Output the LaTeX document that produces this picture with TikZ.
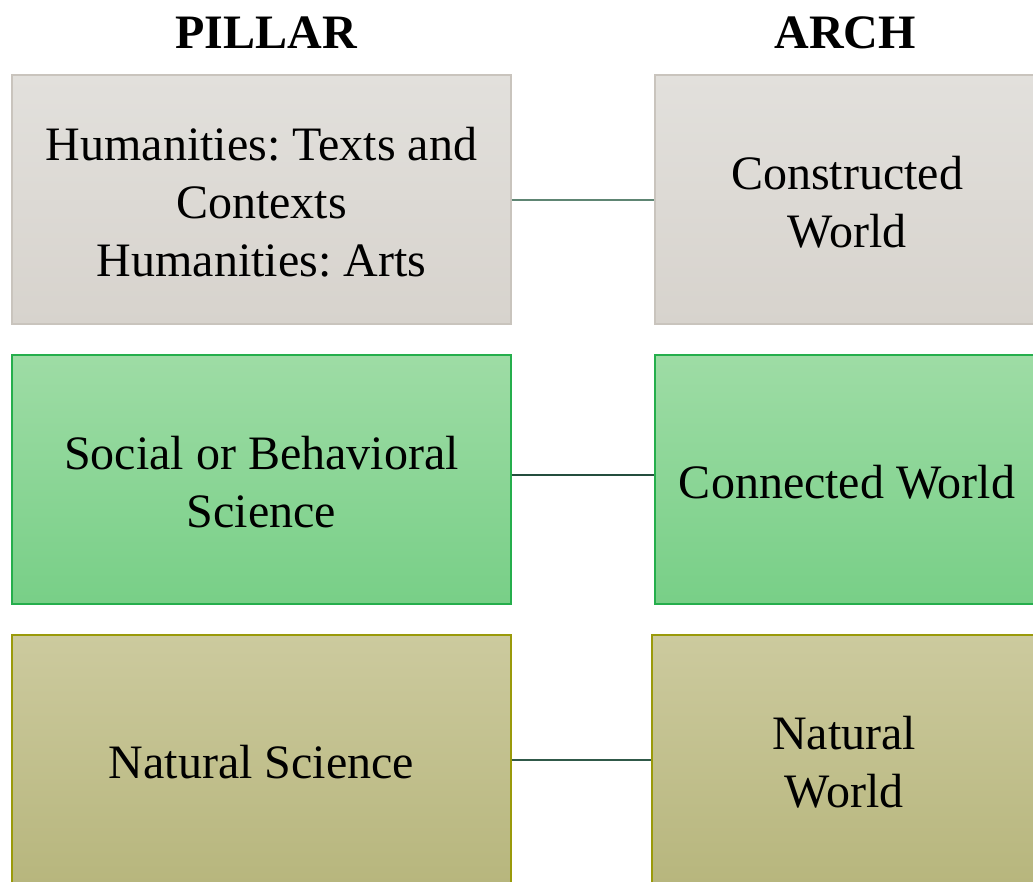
\documentclass[tikz,border=0pt]{standalone}
\usepackage{fontspec}
\setmainfont{Liberation Serif}
\frenchspacing
\definecolor{grayT}{HTML}{E2E0DC}
\definecolor{grayB}{HTML}{D7D3CD}
\definecolor{grayD}{HTML}{C9C4BD}
\definecolor{greenT}{HTML}{9EDCA5}
\definecolor{greenB}{HTML}{78CF87}
\definecolor{greenD}{HTML}{25AE4C}
\definecolor{oliveT}{HTML}{CCCA9E}
\definecolor{oliveB}{HTML}{B7B67D}
\definecolor{oliveD}{HTML}{9A9A0A}
\definecolor{linkA}{HTML}{5E8573}
\definecolor{linkB}{HTML}{244E3E}
\tikzset{
  box/.style={rectangle, draw, line width=1.3pt, inner sep=0pt, shading angle=0},
  boxtext/.style={align=center, inner sep=0pt, yshift=-3pt,
    font=\fontsize{48}{58}\selectfont},
  leftbox/.style={box, minimum width=499pt, minimum height=249pt},
  rightbox/.style={box, minimum width=384pt, minimum height=249pt},
  graybox/.style={draw=grayD, top color=grayT, bottom color=grayB},
  greenbox/.style={draw=greenD, top color=greenT, bottom color=greenB},
  olivebox/.style={draw=oliveD, top color=oliveT, bottom color=oliveB},
  head/.style={font=\fontsize{48}{58}\selectfont\bfseries, anchor=base, inner sep=0pt},
  link/.style={line width=2pt}
}
\begin{document}
\begin{tikzpicture}[x=1pt,y=-1pt]
\useasboundingbox (0,0) rectangle (1033,881);
\begin{scope}
\clip (0,0) rectangle (1033,881);
\node[head] (hp) at (266,48) {PILLAR};
\node[head] (ha) at (845,48) {ARCH};

\node[leftbox, graybox, label={[boxtext]center:{Humanities: Texts and\\Contexts\\Humanities: Arts}}] (l1) at (261.5,199.5) {};
\node[rightbox, graybox, label={[boxtext]center:{Constructed\\World}}] (r1) at (847,199.5) {};

\node[leftbox, greenbox, label={[boxtext]center:{Social or Behavioral\\Science}}] (l2) at (261.5,479.5) {};
\node[rightbox, greenbox, label={[boxtext]center:{Connected World}}] (r2) at (847,479.5) {};

\node[leftbox, olivebox, label={[boxtext]center:{Natural Science}}] (l3) at (261.5,759.5) {};
\node[rightbox, olivebox, label={[boxtext]center:{Natural\\World}}] (r3) at (844,759.5) {};

\draw[link, draw=linkA] (l1.east) -- (r1.west);
\draw[link, draw=linkB] ([yshift=5pt]l2.east) -- ([yshift=5pt]r2.west);
\draw[link, draw=linkB!80!linkA] (l3.east) -- (r3.west);
\end{scope}
\end{tikzpicture}
\end{document}
